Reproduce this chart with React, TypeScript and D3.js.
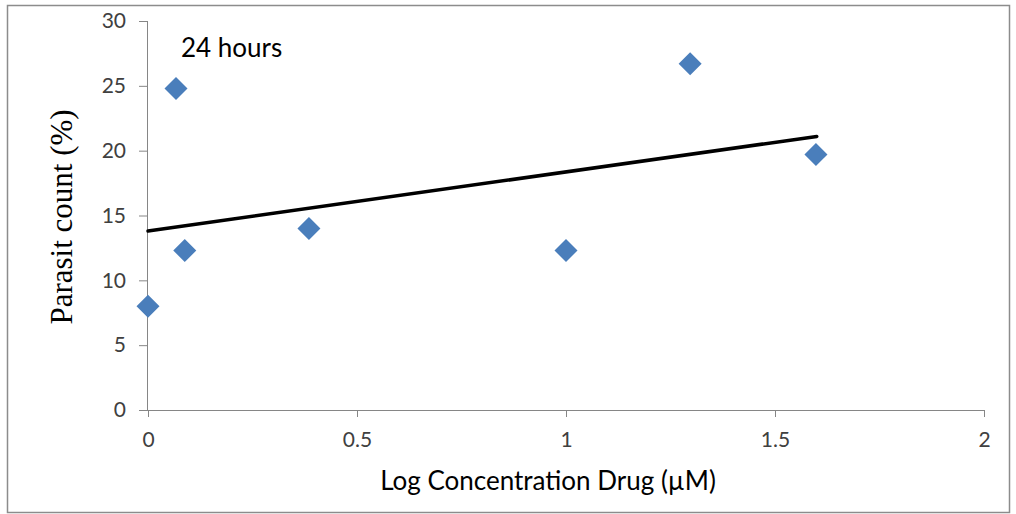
import { useEffect, useRef } from "react";
import * as d3 from "d3";

// scatter values (log µM, % parasites)
const LOG_CONC = [0, 0.067, 0.088, 0.385, 1.0, 1.297, 1.598];
const PARASIT = [8.0, 24.8, 12.3, 14.0, 12.3, 26.7, 19.7];
// linear trendline endpoints
const TREND_X = [0, 1.6];
const TREND_Y = [13.8, 21.1];
const X_TICKS = [0, 0.5, 1, 1.5, 2];
const Y_TICKS = [0, 5, 10, 15, 20, 25, 30];

const W = 1016;
const H = 514;
const SANS = "Lato, 'Open Sans', sans-serif";

export default function App() {
  const svgRef = useRef<SVGSVGElement>(null);

  useEffect(() => {
    const svg = d3.select(svgRef.current);
    svg.selectAll("*").remove();

    const x = d3.scaleLinear().domain([0, 2]).range([148, 984]);
    const y = d3.scaleLinear().domain([0, 30]).range([410, 21]);

    svg.append("rect").attr("width", W).attr("height", H).attr("fill", "#fff");
    // outer chart frame
    svg.append("rect")
      .attr("x", 7.5).attr("y", 5.5).attr("width", 1002).attr("height", 507)
      .attr("fill", "none").attr("stroke", "#8c8c8c").attr("stroke-width", 1.5);

    const axisColor = "#868686";
    // y axis
    svg.append("g").attr("transform", `translate(${x(0)},0)`)
      .call(d3.axisLeft(y).tickValues(Y_TICKS).tickSize(9).tickPadding(13).tickFormat(d3.format("d")))
      .call((sel) => {
        sel.select(".domain").attr("stroke", axisColor).attr("d", `M-0.5,${y(30)}V${y(0)}`);
        sel.selectAll(".tick line").attr("stroke", axisColor);
        sel.selectAll(".tick text").attr("fill", "#404040").attr("font-size", "21px").attr("font-family", SANS);
      });
    // x axis
    svg.append("g").attr("transform", `translate(0,${y(0)})`)
      .call(d3.axisBottom(x).tickValues(X_TICKS).tickSize(7).tickPadding(15).tickFormat((d) => String(d)))
      .call((sel) => {
        sel.select(".domain").attr("stroke", axisColor).attr("d", `M${x(0) - 8},0.5H${x(2)}`);
        sel.selectAll(".tick line").attr("stroke", axisColor);
        sel.selectAll(".tick text").attr("fill", "#404040").attr("font-size", "21px").attr("font-family", SANS);
      });

    // trendline
    svg.append("line")
      .attr("x1", x(TREND_X[0])).attr("y1", y(TREND_Y[0]))
      .attr("x2", x(TREND_X[1])).attr("y2", y(TREND_Y[1]))
      .attr("stroke", "#000").attr("stroke-width", 3.5).attr("stroke-linecap", "round");

    // diamond markers
    const diamond = d3.symbol(d3.symbolSquare, 265)();
    svg.append("g").selectAll("path")
      .data(LOG_CONC.map((v, i) => [v, PARASIT[i]]))
      .enter().append("path")
      .attr("d", diamond)
      .attr("transform", (d) => `translate(${x(d[0])},${y(d[1])}) rotate(45)`)
      .attr("fill", "#4a7ebb");

    svg.append("text")
      .attr("x", 181).attr("y", 57)
      .attr("font-family", SANS).attr("font-size", "26px").attr("fill", "#000")
      .text("24 hours");

    svg.append("text")
      .attr("x", 548).attr("y", 490).attr("text-anchor", "middle")
      .attr("font-family", SANS).attr("font-size", "26px").attr("fill", "#000")
      .text("Log Concentration Drug (µM)");

    svg.append("text")
      .attr("transform", `translate(72,217) rotate(-90)`).attr("text-anchor", "middle")
      .attr("font-family", "'Liberation Serif', 'Times New Roman', serif").attr("font-size", "31px").attr("fill", "#000")
      .text("Parasit count (%)");
  }, []);

  return (
    <svg ref={svgRef} width={W} height={H}
      style={{ position: "absolute", left: 0, top: 0, display: "block" }} />
  );
}
